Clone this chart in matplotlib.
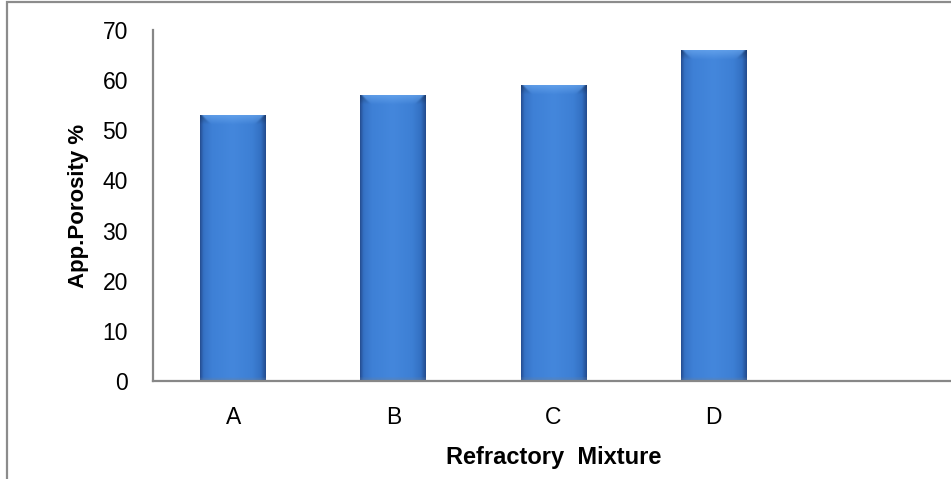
import numpy as np
import matplotlib
matplotlib.use("Agg")
import matplotlib.pyplot as plt
from matplotlib.colors import to_rgb
from matplotlib.patches import Rectangle

mixtures = ["A", "B", "C", "D", ""]
porosity = [53, 57, 59, 66]
y_ticks = [0, 10, 20, 30, 40, 50, 60, 70]

plt.rcParams["font.family"] = ["Liberation Sans", "DejaVu Sans"]

W, H = 951, 479
fig = plt.figure(figsize=(W / 100, H / 100), dpi=100)
fig.patch.set_facecolor("white")

# outer chart frame (right and bottom edges fall outside the canvas)
fig.add_artist(Rectangle((7 / W, -0.05), 1.1, 1 - 2.5 / H + 0.05, transform=fig.transFigure,
                         fill=False, edgecolor="#8c8c8c", linewidth=1.6))

ax = fig.add_axes([153 / W, 1 - 381 / H, 801 / W, 351 / H])

x = np.arange(len(porosity))
bars = ax.bar(x, porosity, width=0.41, color="#3d7cd4", zorder=2)


def cylinder_shade(h, px_per_unit=5.01, n_rows=400, n_cols=80):
    # horizontal shading: dark edges, brighter centre
    stops_u = [0.0, 0.05, 0.18, 0.5, 0.8, 0.93, 1.0]
    stops_c = ["#264f93", "#3571c4", "#3e80d6", "#4487dc", "#3d7fd4", "#3370c2", "#244d90"]
    u = np.linspace(0, 1, n_cols)
    cols = np.array([to_rgb(c) for c in stops_c])
    prof = np.stack([np.interp(u, stops_u, cols[:, k]) for k in range(3)], axis=-1)
    img = np.repeat(prof[None, :, :], n_rows, axis=0)
    # bevel on top
    yy = np.linspace(0, h, n_rows)
    depth_px = (h - yy) * px_per_unit
    bevel = 9.0
    light = np.array(to_rgb("#72aef2"))
    for r in range(n_rows):
        d = depth_px[r]
        if d < bevel:
            t = 1 - d / bevel
            edge = np.minimum(u, 1 - u) * 66
            inside = np.clip((edge - d) / 3, 0, 1)
            mix = (0.6 * t * inside)[:, None]
            img[r] = img[r] * (1 - mix) + light * mix
            dark = ((1 - inside) * 0.25 * t)[:, None]
            img[r] = img[r] * (1 - dark)
    # slightly darker foot
    foot = depth_px > (h * px_per_unit - 3)
    img[foot] = img[foot] * 0.75 + np.array(to_rgb("#6a7f99")) * 0.25
    return img


for b, v in zip(bars, porosity):
    x0 = b.get_x()
    x1 = x0 + b.get_width()
    im = ax.imshow(cylinder_shade(v), extent=[x0, x1, 0, v], origin="lower",
                   aspect="auto", interpolation="bilinear", zorder=3)
    im.set_clip_path(b)

ax.set_xlim(-0.5, len(mixtures) - 0.5)
ax.set_ylim(0, 70)
ax.set_yticks(y_ticks)
ax.set_xticks(np.arange(len(mixtures)))
ax.set_xticklabels(mixtures)

for s in ["top", "right"]:
    ax.spines[s].set_visible(False)
for s in ["left", "bottom"]:
    ax.spines[s].set_color("#878787")
    ax.spines[s].set_linewidth(1.6)
    ax.spines[s].set_zorder(4)

ax.tick_params(axis="y", length=0, pad=18, labelsize=16.5)
ax.tick_params(axis="x", length=0, pad=18, labelsize=16.5)

ax.set_ylabel("App.Porosity %", fontsize=16, fontweight="bold", labelpad=10)
ax.set_xlabel("Refractory  Mixture", fontsize=17, fontweight="bold", labelpad=12)

fig.savefig("out.png", dpi=100)
